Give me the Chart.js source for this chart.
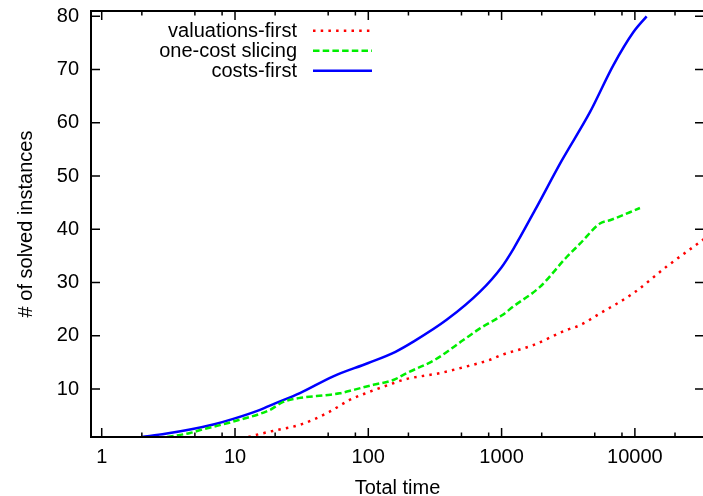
<!DOCTYPE html>
<html>
<head>
<meta charset="utf-8">
<script src="https://cdn.jsdelivr.net/npm/chart.js@4.4.1/dist/chart.umd.min.js"></script>
<style>
  html, body { margin: 0; padding: 0; background: #fff; overflow: hidden; }
  #wrap { width: 705px; height: 496px; position: relative; }
</style>
</head>
<body>
<div id="wrap"><canvas id="chart"></canvas></div>
<script>
// Values (total time -> # solved instances)
const valuationsTime   = [12.6, 15, 20.5, 30.7, 50, 73, 100, 154, 194, 345, 500, 819, 1000, 1700, 3078, 3873, 5470, 9727, 17300, 30760, 33500];
const valuationsSolved = [1, 1.5, 2.3, 3.3, 5.6, 8.0, 9.4, 11.1, 11.9, 13.0, 14.0, 15.5, 16.4, 18.2, 21.1, 22.0, 24.2, 28.0, 33.0, 37.6, 38.3];

const slicingTime   = [3.1, 4.6, 5.5, 9.7, 18.3, 23, 30, 50, 61, 79, 109, 154, 194, 316, 516, 689, 1000, 1224, 1941, 3078, 3873, 5470, 6500, 10915];
const slicingSolved = [1, 1.75, 2.3, 3.9, 6.1, 7.6, 8.3, 8.9, 9.2, 9.9, 10.8, 11.7, 13.0, 15.5, 19.2, 21.4, 23.8, 25.5, 29.2, 34.8, 37.3, 41.1, 41.7, 44.0];

const costsTime   = [2, 3, 4.6, 7, 9.7, 15.4, 20, 30.7, 54.6, 100, 160, 218, 387, 689, 1000, 1224, 1780, 2825, 4600, 6885, 9727, 12250];
const costsSolved = [1, 1.6, 2.4, 3.4, 4.4, 6.1, 7.3, 9.25, 12.4, 14.9, 17.0, 18.9, 23.0, 28.3, 32.9, 36.3, 43.6, 52.9, 62.0, 70.8, 77.0, 80];

const seriesLabels = ['valuations-first', 'one-cost slicing', 'costs-first'];

// Tick positions
const xTickValues = [1, 10, 100, 1000, 10000];
const xMinorTicks = [2, 5, 8, 20, 50, 80, 200, 500, 800, 2000, 5000, 8000, 20000];
const yTickValues = [10, 20, 30, 40, 50, 60, 70, 80];

const FONT = 'Liberation Sans, Arial, Helvetica, sans-serif';

function zip(xs, ys) {
    return xs.map((x, i) => ({ x: x, y: ys[i] }));
}

// gnuplot-like frame with inward ticks, plus the key in the upper left
const frameAndKey = {
    id: 'frameAndKey',
    afterDatasetsDraw(chart) {
        const { ctx, chartArea: a } = chart;
        const x = chart.scales.x, y = chart.scales.y;
        ctx.save();
        ctx.strokeStyle = '#000';
        ctx.lineWidth = 1.5;
        ctx.beginPath();
        xTickValues.forEach(v => {
            const px = x.getPixelForValue(v);
            ctx.moveTo(px, a.bottom); ctx.lineTo(px, a.bottom - 9);
            ctx.moveTo(px, a.top); ctx.lineTo(px, a.top + 9);
        });
        xMinorTicks.forEach(v => {
            const px = x.getPixelForValue(v);
            ctx.moveTo(px, a.bottom); ctx.lineTo(px, a.bottom - 4.5);
            ctx.moveTo(px, a.top); ctx.lineTo(px, a.top + 4.5);
        });
        yTickValues.forEach(v => {
            const py = y.getPixelForValue(v);
            ctx.moveTo(a.left, py); ctx.lineTo(a.left + 9, py);
            ctx.moveTo(a.right, py); ctx.lineTo(a.right - 9, py);
        });
        ctx.stroke();
        ctx.lineWidth = 2;
        ctx.strokeRect(a.left, a.top, a.right - a.left, a.bottom - a.top);

        // key
        ctx.font = '20px ' + FONT;
        ctx.fillStyle = '#000';
        ctx.textAlign = 'right';
        ctx.textBaseline = 'middle';
        chart.data.datasets.forEach((ds, i) => {
            const ry = 30.7 + i * 20;
            ctx.fillText(ds.label, 297, ry + 1);
            ctx.strokeStyle = ds.borderColor;
            ctx.lineWidth = ds.borderWidth;
            ctx.setLineDash(ds.borderDash || []);
            ctx.beginPath();
            ctx.moveTo(313, ry);
            ctx.lineTo(372, ry);
            ctx.stroke();
            ctx.setLineDash([]);
        });
        ctx.restore();
    }
};

const ctx = document.getElementById('chart').getContext('2d');
new Chart(ctx, {
    type: 'line',
    data: {
        datasets: [{
            label: seriesLabels[0],
            data: zip(valuationsTime, valuationsSolved),
            borderColor: '#ff0000',
            borderWidth: 2.5,
            borderDash: [2.5, 5.2],
            pointRadius: 0,
            cubicInterpolationMode: 'monotone'
        }, {
            label: seriesLabels[1],
            data: zip(slicingTime, slicingSolved),
            borderColor: '#00ee00',
            borderWidth: 2.5,
            borderDash: [6.5, 3.2],
            pointRadius: 0,
            cubicInterpolationMode: 'monotone'
        }, {
            label: seriesLabels[2],
            data: zip(costsTime, costsSolved),
            borderColor: '#0000ff',
            borderWidth: 2.5,
            pointRadius: 0,
            cubicInterpolationMode: 'monotone'
        }]
    },
    options: {
        responsive: true,
        maintainAspectRatio: false,
        animation: false,
        layout: { padding: { top: 11, right: 1, left: 0, bottom: 0 } },
        plugins: {
            legend: { display: false },
            tooltip: { enabled: false }
        },
        scales: {
            x: {
                type: 'logarithmic',
                min: 0.831,
                max: 33000,
                afterBuildTicks: s => { s.ticks = xTickValues.map(v => ({ value: v })); },
                afterFit: s => {
                    s.height = 59;
                    s.paddingLeft = 0; s.paddingRight = 0;
                },
                grid: { display: false, drawTicks: false },
                border: { display: false },
                ticks: {
                    color: '#000',
                    font: { family: FONT, size: 20 },
                    padding: 8,
                    maxRotation: 0,
                    autoSkip: false,
                    callback: v => String(v)
                },
                title: {
                    display: true,
                    text: 'Total time',
                    color: '#000',
                    font: { family: FONT, size: 20 },
                    padding: { top: 0, bottom: -4 }
                }
            },
            y: {
                type: 'linear',
                min: 1,
                max: 81,
                afterBuildTicks: s => { s.ticks = yTickValues.map(v => ({ value: v })); },
                afterFit: s => {
                    s.width = 91;
                    s.paddingTop = 0; s.paddingBottom = 0;
                },
                grid: { display: false, drawTicks: false },
                border: { display: false },
                ticks: {
                    color: '#000',
                    font: { family: FONT, size: 20 },
                    padding: 12,
                    autoSkip: false
                },
                title: {
                    display: true,
                    text: '# of solved instances',
                    color: '#000',
                    font: { family: FONT, size: 20 },
                    padding: { top: 14, bottom: 0 }
                }
            }
        }
    },
    plugins: [frameAndKey]
});
</script>
</body>
</html>
